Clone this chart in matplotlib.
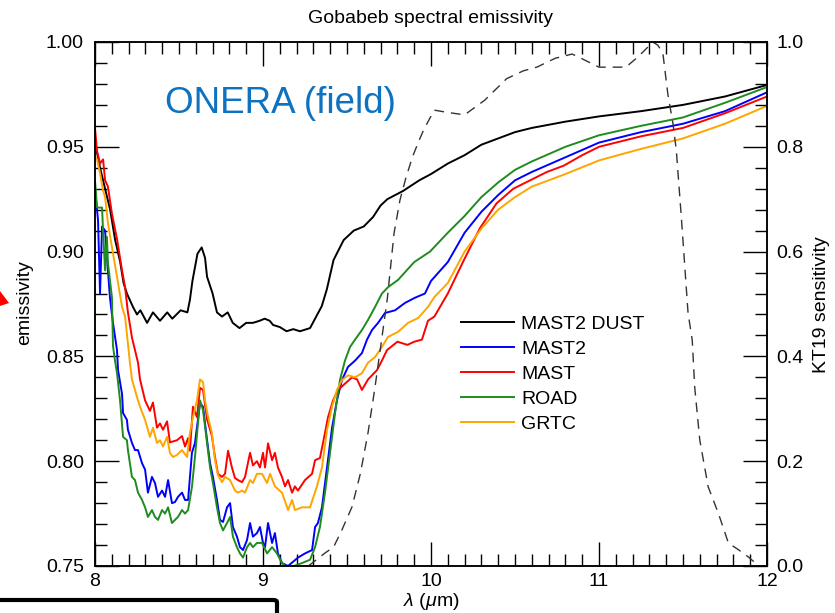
import matplotlib
matplotlib.use("Agg")
import matplotlib.pyplot as plt
from matplotlib.ticker import MultipleLocator, FormatStrFormatter
from matplotlib.patches import Polygon, FancyBboxPatch

plt.rcParams["font.family"] = ["Liberation Sans", "DejaVu Sans"]
plt.rcParams["mathtext.fontset"] = "custom"
plt.rcParams["mathtext.rm"] = "Liberation Sans"
plt.rcParams["mathtext.it"] = "Liberation Sans:italic"

W, H = 835, 613

# spectra (wavelength in um, emissivity)
lam_black = [8.000, 8.030, 8.060, 8.090, 8.120, 8.150, 8.170, 8.190, 8.226, 8.250, 8.270, 8.310,
             8.345, 8.387, 8.430, 8.460, 8.510, 8.550, 8.565, 8.580, 8.610, 8.635, 8.655, 8.667,
             8.700, 8.726, 8.756, 8.790, 8.820, 8.860, 8.900, 8.940, 8.980, 9.010, 9.040, 9.060,
             9.100, 9.140, 9.180, 9.220, 9.280, 9.310, 9.350, 9.380, 9.420, 9.480, 9.540, 9.600,
             9.655, 9.700, 9.740, 9.835, 9.930, 10.00, 10.10, 10.20, 10.30, 10.40, 10.50, 10.60,
             10.80, 11.00, 11.25, 11.50, 11.75, 12.00]
val_black = [0.952, 0.940, 0.930, 0.920, 0.9055, 0.895, 0.885, 0.880, 0.8736, 0.870, 0.872, 0.866,
             0.871, 0.867, 0.871, 0.868, 0.872, 0.871, 0.877, 0.886, 0.899, 0.902, 0.897, 0.888,
             0.880, 0.871, 0.869, 0.871, 0.866, 0.8635, 0.866, 0.866, 0.867, 0.868, 0.867, 0.865,
             0.864, 0.862, 0.863, 0.862, 0.8635, 0.868, 0.874, 0.882, 0.896, 0.9055, 0.910, 0.912,
             0.9165, 0.922, 0.925, 0.929, 0.934, 0.937, 0.942, 0.946, 0.951, 0.954, 0.957, 0.959,
             0.962, 0.9645, 0.967, 0.970, 0.974, 0.9795]

lam_blue = [8.000, 8.018, 8.030, 8.042, 8.060, 8.071, 8.077, 8.089, 8.107, 8.131, 8.137, 8.161,
            8.167, 8.190, 8.196, 8.220, 8.238, 8.256, 8.280, 8.298, 8.315, 8.339, 8.357, 8.375,
            8.399, 8.417, 8.435, 8.458, 8.476, 8.494, 8.518, 8.536, 8.554, 8.577, 8.595, 8.625,
            8.643, 8.667, 8.685, 8.702, 8.726, 8.744, 8.762, 8.786, 8.804, 8.821, 8.845, 8.863,
            8.881, 8.905, 8.923, 8.940, 8.964, 8.982, 9.000, 9.012, 9.030, 9.054, 9.071, 9.089,
            9.113, 9.149, 9.208, 9.250, 9.292, 9.310, 9.327, 9.351, 9.381, 9.411, 9.440, 9.470,
            9.506, 9.548, 9.589, 9.619, 9.649, 9.685, 9.726, 9.786, 9.845, 9.905, 9.964, 10.00,
            10.10, 10.20, 10.30, 10.40, 10.50, 10.60, 10.80, 11.00, 11.25, 11.50, 11.75, 12.00]
val_blue = [0.930, 0.915, 0.880, 0.912, 0.910, 0.8975, 0.891, 0.878, 0.866, 0.853, 0.8435, 0.832,
            0.823, 0.8197, 0.815, 0.8087, 0.8053, 0.8053, 0.799, 0.796, 0.785, 0.7925, 0.7896, 0.783,
            0.786, 0.783, 0.791, 0.780, 0.7805, 0.783, 0.785, 0.7815, 0.7815, 0.804, 0.8087, 0.8277,
            0.826, 0.810, 0.799, 0.7925, 0.7815, 0.772, 0.771, 0.778, 0.780, 0.7686, 0.764, 0.759,
            0.7576, 0.7624, 0.7705, 0.764, 0.7657, 0.7686, 0.761, 0.759, 0.7705, 0.761, 0.7657, 0.756,
            0.7514, 0.750, 0.754, 0.756, 0.7576, 0.7686, 0.7705, 0.778, 0.797, 0.816, 0.829, 0.8387,
            0.845, 0.848, 0.8516, 0.858, 0.8626, 0.866, 0.8707, 0.872, 0.8755, 0.878, 0.880, 0.886,
            0.895, 0.909, 0.919, 0.927, 0.934, 0.938, 0.945, 0.952, 0.957, 0.961, 0.967, 0.976]

lam_red = [8.000, 8.012, 8.030, 8.048, 8.060, 8.077, 8.101, 8.131, 8.161, 8.179, 8.196, 8.220,
           8.238, 8.256, 8.268, 8.298, 8.327, 8.345, 8.369, 8.387, 8.405, 8.429, 8.446, 8.488,
           8.518, 8.536, 8.554, 8.565, 8.583, 8.607, 8.625, 8.643, 8.667, 8.696, 8.714, 8.732,
           8.756, 8.774, 8.792, 8.815, 8.833, 8.851, 8.875, 8.893, 8.923, 8.940, 8.964, 8.982,
           9.000, 9.012, 9.030, 9.054, 9.071, 9.089, 9.113, 9.131, 9.149, 9.173, 9.190, 9.208,
           9.250, 9.292, 9.310, 9.339, 9.369, 9.387, 9.417, 9.446, 9.488, 9.530, 9.560, 9.589,
           9.625, 9.679, 9.708, 9.738, 9.800, 9.860, 9.900, 9.946, 9.982, 10.02, 10.10, 10.19,
           10.29, 10.39, 10.49, 10.59, 10.69, 10.79, 10.90, 11.00, 11.10, 11.25, 11.50, 11.75, 12.00]
val_red = [0.959, 0.948, 0.942, 0.944, 0.934, 0.931, 0.918, 0.906, 0.891, 0.883, 0.871, 0.859,
           0.853, 0.847, 0.839, 0.829, 0.824, 0.828, 0.816, 0.818, 0.815, 0.819, 0.809, 0.810,
           0.812, 0.807, 0.811, 0.805, 0.826, 0.821, 0.835, 0.834, 0.820, 0.812, 0.802, 0.794,
           0.7925, 0.794, 0.805, 0.797, 0.792, 0.791, 0.790, 0.7925, 0.804, 0.798, 0.800, 0.797,
           0.804, 0.797, 0.8085, 0.8005, 0.804, 0.797, 0.7925, 0.788, 0.791, 0.785, 0.788, 0.786,
           0.791, 0.794, 0.8005, 0.8015, 0.8135, 0.821, 0.829, 0.834, 0.837, 0.840, 0.839, 0.834,
           0.839, 0.8435, 0.848, 0.853, 0.857, 0.8555, 0.857, 0.858, 0.867, 0.869, 0.880, 0.895,
           0.911, 0.923, 0.930, 0.934, 0.938, 0.941, 0.946, 0.950, 0.952, 0.955, 0.959, 0.966, 0.974]

lam_green = [8.000, 8.012, 8.030, 8.042, 8.048, 8.060, 8.071, 8.077, 8.101, 8.107, 8.119, 8.131,
             8.149, 8.167, 8.190, 8.196, 8.220, 8.238, 8.256, 8.280, 8.298, 8.315, 8.339, 8.357,
             8.375, 8.399, 8.417, 8.435, 8.458, 8.476, 8.494, 8.518, 8.536, 8.554, 8.577, 8.595,
             8.625, 8.643, 8.667, 8.685, 8.702, 8.726, 8.744, 8.762, 8.786, 8.804, 8.821, 8.845,
             8.863, 8.881, 8.905, 8.923, 8.940, 8.964, 8.994, 9.024, 9.054, 9.083, 9.113, 9.149,
             9.232, 9.280, 9.310, 9.339, 9.369, 9.399, 9.429, 9.458, 9.488, 9.518, 9.548, 9.589,
             9.625, 9.667, 9.708, 9.744, 9.804, 9.900, 9.994, 10.10, 10.20, 10.30, 10.40, 10.50,
             10.60, 10.80, 11.00, 11.25, 11.50, 11.75, 12.00]
val_green = [0.934, 0.921, 0.921, 0.921, 0.910, 0.891, 0.907, 0.8946, 0.878, 0.855, 0.848, 0.842,
             0.829, 0.8116, 0.810, 0.8053, 0.7925, 0.791, 0.785, 0.7815, 0.778, 0.7734, 0.7767, 0.7734,
             0.772, 0.7767, 0.775, 0.778, 0.7705, 0.772, 0.7734, 0.7767, 0.775, 0.7767, 0.7877, 0.802,
             0.829, 0.8244, 0.8087, 0.797, 0.7896, 0.778, 0.7705, 0.767, 0.7705, 0.7734, 0.764, 0.759,
             0.756, 0.754, 0.759, 0.761, 0.759, 0.761, 0.761, 0.756, 0.759, 0.756, 0.7514, 0.749,
             0.7514, 0.753, 0.759, 0.7686, 0.785, 0.804, 0.823, 0.8387, 0.848, 0.8545, 0.858, 0.8626,
             0.8674, 0.8736, 0.880, 0.883, 0.8865, 0.895, 0.900, 0.909, 0.917, 0.926, 0.933, 0.939,
             0.943, 0.950, 0.9555, 0.960, 0.964, 0.971, 0.9785]

lam_orange = [8.000, 8.012, 8.030, 8.048, 8.060, 8.077, 8.101, 8.131, 8.161, 8.179, 8.196, 8.208,
              8.220, 8.250, 8.268, 8.298, 8.327, 8.345, 8.369, 8.387, 8.405, 8.429, 8.446, 8.464,
              8.488, 8.518, 8.548, 8.565, 8.583, 8.607, 8.625, 8.643, 8.655, 8.673, 8.696, 8.714,
              8.732, 8.756, 8.774, 8.804, 8.833, 8.851, 8.875, 8.893, 8.923, 8.940, 8.964, 8.994,
              9.024, 9.042, 9.071, 9.113, 9.149, 9.173, 9.190, 9.232, 9.280, 9.321, 9.351, 9.381,
              9.411, 9.440, 9.470, 9.506, 9.548, 9.589, 9.625, 9.667, 9.708, 9.744, 9.804, 9.863,
              9.923, 9.982, 10.02, 10.10, 10.20, 10.30, 10.40, 10.50, 10.60, 10.80, 11.00, 11.25,
              11.50, 11.75, 12.00]
val_orange = [0.945, 0.944, 0.9375, 0.929, 0.926, 0.9136, 0.902, 0.888, 0.8736, 0.869, 0.856, 0.847,
              0.839, 0.8306, 0.826, 0.8197, 0.8116, 0.816, 0.8087, 0.810, 0.807, 0.8116, 0.804, 0.802,
              0.803, 0.8053, 0.802, 0.8134, 0.821, 0.829, 0.839, 0.8378, 0.829, 0.821, 0.8134, 0.8006,
              0.7934, 0.790, 0.7925, 0.791, 0.786, 0.785, 0.786, 0.785, 0.791, 0.7896, 0.794, 0.794,
              0.7896, 0.794, 0.788, 0.785, 0.7767, 0.7815, 0.7767, 0.778, 0.778, 0.788, 0.797, 0.815,
              0.826, 0.834, 0.8387, 0.841, 0.840, 0.842, 0.847, 0.8497, 0.8545, 0.8593, 0.8617, 0.866,
              0.8683, 0.8736, 0.8783, 0.885, 0.900, 0.911, 0.920, 0.926, 0.931, 0.937, 0.9435, 0.949,
              0.954, 0.961, 0.9695]

# KT19 spectral response (right axis)
lam_kt19 = [9.27, 9.37, 9.42, 9.47, 9.53, 9.58, 9.625, 9.667, 9.70, 9.74, 9.78, 9.815, 9.85, 9.89,
            9.93, 9.96, 10.02, 10.09, 10.20, 10.32, 10.45, 10.55, 10.63, 10.74, 10.84, 10.88, 11.00,
            11.10, 11.16, 11.23, 11.29, 11.32, 11.35, 11.38, 11.41, 11.44, 11.46, 11.49, 11.53,
            11.555, 11.57, 11.60, 11.65, 11.71, 11.77, 11.83, 11.89, 11.93]
val_kt19 = [0.0, 0.025, 0.036, 0.069, 0.113, 0.177, 0.254, 0.342, 0.418, 0.51, 0.635, 0.698, 0.74,
            0.781, 0.813, 0.835, 0.870, 0.866, 0.861, 0.889, 0.93, 0.945, 0.952, 0.969, 0.977, 0.971,
            0.952, 0.952, 0.952, 0.971, 0.990, 1.0, 0.994, 0.979, 0.90, 0.845, 0.794, 0.666, 0.483,
            0.431, 0.34, 0.24, 0.151, 0.101, 0.044, 0.031, 0.017, 0.006]

series = [
    ("MAST2 DUST", lam_black, val_black, "black"),
    ("MAST2", lam_blue, val_blue, "#0000FF"),
    ("MAST", lam_red, val_red, "#FF0000"),
    ("ROAD", lam_green, val_green, "#1E8C1E"),
    ("GRTC", lam_orange, val_orange, "#FFA500"),
]


def fpx(x, y):
    """pixel position in the 835x613 image -> figure fraction"""
    return x / W, 1 - y / H


fig = plt.figure(figsize=(W / 100, H / 100), dpi=100)
ax = fig.add_axes([95 / W, 1 - 566 / H, (767 - 95) / W, (566 - 42) / H])

for name, lam, val, col in series:
    ax.plot(lam, val, color=col, lw=1.4, label=name)

ax.set_xlim(8, 12)
ax.set_ylim(0.75, 1.0)
ax.xaxis.set_major_locator(MultipleLocator(1))
ax.xaxis.set_minor_locator(MultipleLocator(0.1))
ax.yaxis.set_major_locator(MultipleLocator(0.05))
ax.yaxis.set_minor_locator(MultipleLocator(0.01))
ax.yaxis.set_major_formatter(FormatStrFormatter("%.2f"))
ax.tick_params(which="both", direction="in", top=True, labelsize=14, width=1)
ax.tick_params(which="major", length=17, pad=8)
ax.tick_params(which="minor", length=8.5)
ax.tick_params(axis="x", which="major", pad=5)

ax2 = ax.twinx()
ax2.plot(lam_kt19, val_kt19, color="#333333", lw=1.0, ls=(0, (7, 5)))
ax2.set_ylim(0, 1.0)
ax2.yaxis.set_major_locator(MultipleLocator(0.2))
ax2.yaxis.set_minor_locator(MultipleLocator(0.04))
ax2.yaxis.set_major_formatter(FormatStrFormatter("%.1f"))
ax2.tick_params(which="both", direction="in", labelsize=14, width=1)
ax2.tick_params(which="major", length=17, pad=7)
ax2.tick_params(which="minor", length=8.5)

for a in (ax, ax2):
    for s in a.spines.values():
        s.set_linewidth(1.1)

ax.set_title("Gobabeb spectral emissivity", fontsize=14, pad=14)
fig.text(*fpx(25, 303), "emissivity", rotation=90, ha="center", va="center", fontsize=14)
fig.text(*fpx(822, 305), "KT19 sensitivity", rotation=90, ha="center", va="center", fontsize=14)
fig.text(*fpx(431, 606), r"$\lambda$ ($\mu$m)", ha="center", va="baseline", fontsize=14)
fig.text(*fpx(165, 113), "ONERA (field)", color="#0D72C0", fontsize=26.5, va="baseline")

ax.legend(loc="upper left", bbox_to_anchor=fpx(461, 315), bbox_transform=fig.transFigure,
          frameon=False, fontsize=14, handlelength=2.75, handletextpad=0.35,
          labelspacing=0.38, borderpad=0, borderaxespad=0)

# annotation leftovers at the image edges
fig.patches.append(Polygon([fpx(0, 291), fpx(9, 303), fpx(0, 306)], closed=True,
                           transform=fig.transFigure, color="red", lw=0))
fig.patches.append(FancyBboxPatch(fpx(-10, 640), 287 / W, 40 / H,
                                  boxstyle="round,pad=0,rounding_size=0.004",
                                  transform=fig.transFigure, fill=False, ec="black", lw=3))

fig.savefig("out.png", dpi=100)
